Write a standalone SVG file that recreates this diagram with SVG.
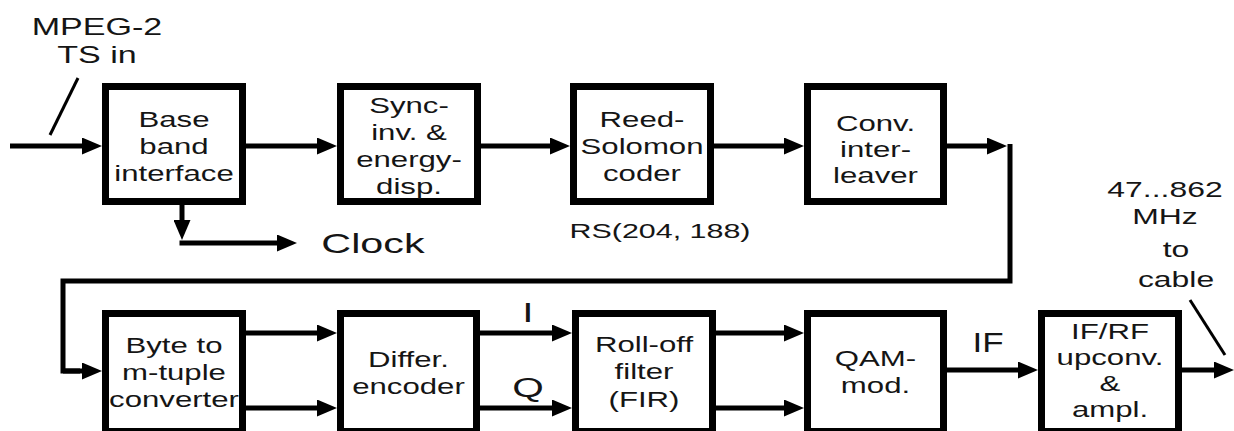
<svg xmlns="http://www.w3.org/2000/svg" width="1234" height="431" viewBox="0 0 1234 431">
<style>
.box{fill:#fff;stroke:#000;stroke-width:7}
.ln{fill:none;stroke:#000;stroke-width:5}
.arr{fill:none;stroke:#000;stroke-width:5;marker-end:url(#ah)}
.sl{fill:none;stroke:#000;stroke-width:3}
text{font-family:"Liberation Sans",Arial,sans-serif;fill:#151515;text-anchor:middle}
.bt{font-size:21.5px}
.lb{font-size:28px}
.sm{font-size:22px}
</style>
<defs>
<marker id="ah" markerUnits="userSpaceOnUse" markerWidth="20" markerHeight="17" refX="10" refY="8.5" orient="auto">
<path d="M0,0 L20,8.5 L0,17 z" fill="#000"/>
</marker>
</defs>
<rect width="1234" height="431" fill="#fff"/>
<g id="connectors">
<line class="arr" x1="10" y1="146" x2="92" y2="146"/>
<line class="sl" x1="78" y1="78" x2="50" y2="135"/>
<line class="arr" x1="246" y1="146" x2="327" y2="146"/>
<line class="arr" x1="481" y1="146" x2="560" y2="146"/>
<line class="arr" x1="714" y1="146" x2="794" y2="146"/>
<line class="arr" x1="947" y1="146" x2="997" y2="146"/>
<path class="ln" d="M1010,144 V281 H63 V371 H80"/>
<line class="arr" x1="63" y1="371" x2="92" y2="371"/>
<line class="arr" x1="182" y1="205" x2="182" y2="230"/>
<line class="arr" x1="179.5" y1="243" x2="287" y2="243"/>
<line class="arr" x1="246" y1="333" x2="327" y2="333"/>
<line class="arr" x1="246" y1="408" x2="327" y2="408"/>
<line class="arr" x1="480" y1="333" x2="562" y2="333"/>
<line class="arr" x1="480" y1="408" x2="562" y2="408"/>
<line class="arr" x1="716" y1="333" x2="794" y2="333"/>
<line class="arr" x1="716" y1="408" x2="794" y2="408"/>
<line class="arr" x1="947" y1="370" x2="1028" y2="370"/>
<line class="arr" x1="1182" y1="370" x2="1224" y2="370"/>
<line class="sl" x1="1190" y1="300" x2="1225" y2="355"/>
</g>
<g id="labels">
<text class="sm" style="font-size:23.5px" transform="translate(97,0) scale(1.45,1)"><tspan x="0" y="35">MPEG-2</tspan><tspan x="0" y="63">TS in</tspan></text>
<text class="lb" style="font-size:28.5px" transform="translate(373,0) scale(1.45,1)"><tspan x="0" y="253">Clock</tspan></text>
<text class="sm" style="font-size:21px" transform="translate(660,0) scale(1.45,1)"><tspan x="0" y="238">RS(204, 188)</tspan></text>
<text class="sm" transform="translate(1165,0) scale(1.45,1)"><tspan x="0" y="197">47...862</tspan><tspan x="0" y="224">MHz</tspan></text>
<text class="sm" transform="translate(1176,0) scale(1.45,1)"><tspan x="0" y="257">to</tspan><tspan x="0" y="287">cable</tspan></text>
<text class="lb" transform="translate(528,0) scale(1.45,1)"><tspan x="0" y="322">I</tspan><tspan x="0" y="397">Q</tspan></text>
<text class="lb" transform="translate(988,0) scale(1.25,1)"><tspan x="0" y="352">IF</tspan></text>
</g>
<g id="n-baseband">
<rect class="box" x="105.5" y="86.5" width="137" height="115"/>
<text class="bt" transform="translate(174,0) scale(1.45,1)"><tspan x="0" y="127">Base</tspan><tspan x="0" y="154">band</tspan><tspan x="0" y="181">interface</tspan></text>
</g>
<g id="n-sync">
<rect class="box" x="340.5" y="86.5" width="137" height="115"/>
<text class="bt" transform="translate(409,0) scale(1.45,1)"><tspan x="0" y="113">Sync-</tspan><tspan x="0" y="140">inv. &amp;</tspan><tspan x="0" y="167">energy-</tspan><tspan x="0" y="194">disp.</tspan></text>
</g>
<g id="n-rs">
<rect class="box" x="573.5" y="86.5" width="137" height="115"/>
<text class="bt" transform="translate(642,0) scale(1.45,1)"><tspan x="0" y="127">Reed-</tspan><tspan x="0" y="154">Solomon</tspan><tspan x="0" y="181">coder</tspan></text>
</g>
<g id="n-conv">
<rect class="box" x="807.5" y="86.5" width="136" height="115"/>
<text class="bt" transform="translate(875.5,0) scale(1.45,1)"><tspan x="0" y="131">Conv.</tspan><tspan x="0" y="157">inter-</tspan><tspan x="0" y="183">leaver</tspan></text>
</g>
<g id="n-byte">
<rect class="box" x="105.5" y="313.5" width="137" height="118"/>
<text class="bt" transform="translate(174,0) scale(1.45,1)"><tspan x="0" y="353">Byte to</tspan><tspan x="0" y="380">m-tuple</tspan><tspan x="0" y="407">converter</tspan></text>
</g>
<g id="n-differ">
<rect class="box" x="340.5" y="313.5" width="136" height="118"/>
<text class="bt" transform="translate(408.5,0) scale(1.45,1)"><tspan x="0" y="367">Differ.</tspan><tspan x="0" y="394">encoder</tspan></text>
</g>
<g id="n-rolloff">
<rect class="box" x="575.5" y="313.5" width="137" height="118"/>
<text class="bt" transform="translate(644,0) scale(1.45,1)"><tspan x="0" y="352">Roll-off</tspan><tspan x="0" y="379">filter</tspan><tspan x="0" y="407">(FIR)</tspan></text>
</g>
<g id="n-qam">
<rect class="box" x="807.5" y="313.5" width="136" height="118"/>
<text class="bt" transform="translate(875.5,0) scale(1.45,1)"><tspan x="0" y="366">QAM-</tspan><tspan x="0" y="393">mod.</tspan></text>
</g>
<g id="n-ifrf">
<rect class="box" x="1041.5" y="313.5" width="137" height="118"/>
<text class="bt" transform="translate(1110,0) scale(1.45,1)"><tspan x="0" y="339">IF/RF</tspan><tspan x="0" y="365">upconv.</tspan><tspan x="0" y="391">&amp;</tspan><tspan x="0" y="417">ampl.</tspan></text>
</g>
</svg>
